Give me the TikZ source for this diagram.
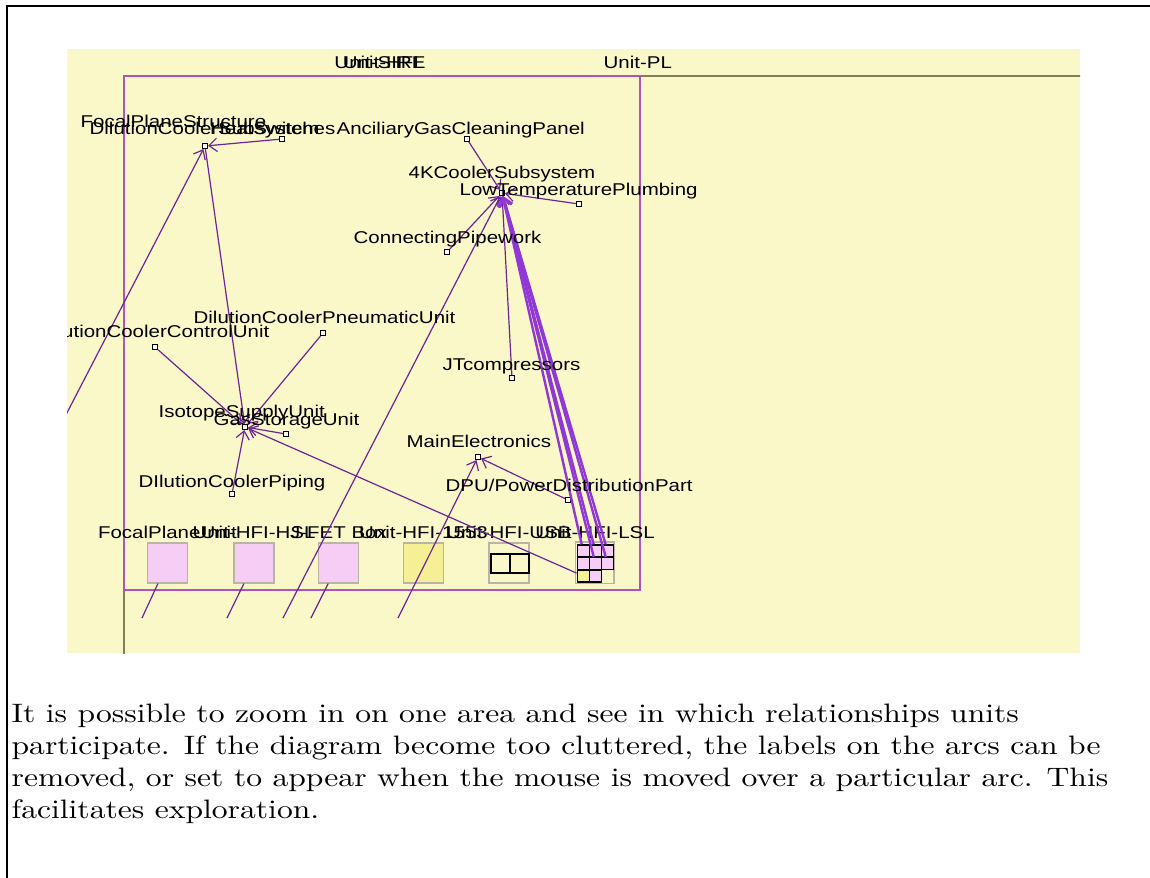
\documentclass[tikz,border=0pt]{standalone}
\usepackage{fontspec}
\setsansfont{Liberation Sans}
\usetikzlibrary{arrows.meta}
\definecolor{shotYellow}{RGB}{250,248,200}
\definecolor{unitPurple}{RGB}{175,85,185}
\definecolor{unitOlive}{RGB}{130,125,90}
\definecolor{arcPurple}{RGB}{110,35,150}
\definecolor{arcViolet}{RGB}{145,55,215}
\definecolor{boxPink}{RGB}{245,205,245}
\definecolor{boxYellow}{RGB}{245,240,150}
\definecolor{boxGray}{RGB}{185,180,165}

\begin{document}
\begin{tikzpicture}[
        x=0.375pt, y=-0.375pt,
        lbl/.style={font=\sffamily\fontsize{6.4}{7}\selectfont, inner sep=0pt, xscale=1.2, anchor=base west},
        obj/.style={draw=black, fill=shotYellow!40!white, minimum size=2pt, inner sep=0pt, line width=0.3pt},
        unitbox/.style={draw=boxGray, minimum width=15pt, minimum height=15pt, inner sep=0pt, line width=0.4pt},
        cell/.style={draw=black, minimum size=4.5pt, inner sep=0pt, line width=0.5pt},
        arc/.style={draw=arcPurple, line width=0.45pt, -{Straight Barb[length=3pt,width=5pt]}},
        bigarc/.style={draw=arcViolet, line width=0.9pt, -{Straight Barb[length=3pt,width=5pt]}},
        stub/.style={draw=arcPurple, line width=0.45pt},
        captext/.style={font=\fontsize{10}{12}\selectfont, inner sep=0pt, xscale=1.185, align=left, anchor=base west}
    ]
        \clip (0,0) rectangle (1150,877);
        \draw[line width=0.9pt] (7,900) -- (7,6) -- (1160,6);
        \fill[shotYellow] (67,49) rectangle (1080,653);

        \begin{scope}
        \clip (67,49) rectangle (1080,653);
        \draw[unitOlive, line width=0.75pt] (124,700) -- (124,76) -- (1100,76);
        \draw[unitPurple, line width=0.75pt] (124,76) rectangle (640,590);
        \node[lbl] (plLbl) at (603,68) {Unit-PL};
        \node[lbl, anchor=base] (sireLbl) at (380,68) {Unit-SIRE};
        \node[lbl, anchor=base] (hfiLbl) at (381,68) {Unit-HFI};

        \node[unitbox, fill=boxPink] (fpu) at (167.5,563) {};
        \node[unitbox, fill=boxPink] (hsl) at (254,563) {};
        \node[unitbox, fill=boxPink] (jfet) at (338.5,563) {};
        \node[unitbox, fill=boxYellow] (b1553) at (423.5,563) {};
        \node[unitbox] (usb) at (509,563) {};
        \node[cell, fill=shotYellow, minimum size=7.1pt] (usbA) at (500.5,563.5) {};
        \node[cell, fill=shotYellow, minimum size=7.1pt] (usbB) at (519.5,563.5) {};
        \node[unitbox, minimum width=14.6pt, minimum height=15.4pt] (lsl) at (594.5,562.5) {};
        \foreach \r/\c/\col in {1/1/boxPink, 1/2/boxPink, 1/3/boxPink, 2/1/boxPink, 2/2/boxPink, 2/3/boxPink, 3/1/boxYellow, 3/2/boxPink}
            \node[cell, fill=\col] (lsl-\r-\c) at ({571+12.2*\c},{538.5+12.5*\r}) {};

        \node[lbl, anchor=base] (fpuLbl) at (167.5,538) {FocalPlaneUnit};
        \node[lbl, anchor=base] (hslLbl) at (254,538) {Unit-HFI-HSL};
        \node[lbl, anchor=base] (jfetLbl) at (338.5,538) {J-FET Box};
        \node[lbl, anchor=base] (b1553Lbl) at (423.5,538) {Unit-HFI-1553};
        \node[lbl, anchor=base] (usbLbl) at (509,538) {Unit-HFI-USB};
        \node[lbl, anchor=base] (lslLbl) at (595,538) {Unit-HFI-LSL};

        \node[obj] (dcs) at (205,146) {};
        \node[obj] (kcs) at (502,193) {};
        \node[obj] (isu) at (245,427) {};
        \node[obj] (hsw) at (282,139) {};
        \node[obj] (agc) at (467,139) {};
        \node[obj] (ltp) at (579,204) {};
        \node[obj] (cpw) at (447,252) {};
        \node[obj] (jtc) at (512,378) {};
        \node[obj] (dcpu) at (323,333) {};
        \node[obj] (dccu) at (155,347) {};
        \node[obj] (gsu) at (286,434) {};
        \node[obj] (dcp) at (232,494) {};
        \node[obj] (mel) at (478,457) {};
        \node[obj] (dpu) at (568,500) {};
        \coordinate (offL) at (40,465);
        \coordinate (offK) at (283,618);
        \coordinate (offM) at (398,618);
        \coordinate (outA) at (142,618);
        \coordinate (outB) at (227,618);
        \coordinate (outC) at (311,618);

        \draw[arc] (hsw) -- (dcs);
        \draw[arc] (offL) -- (dcs);
        \draw[arc, {Straight Barb[length=3pt,width=5pt]}-] (isu) -- (dcs);
        \draw[arc] (agc) -- (kcs);
        \draw[arc] (ltp) -- (kcs);
        \draw[arc] (cpw) -- (kcs);
        \draw[arc] (jtc) -- (kcs);
        \draw[arc] (offK) -- (kcs);
        \draw[arc] (dcpu) -- (isu);
        \draw[arc] (dccu) -- (isu);
        \draw[arc] (gsu) -- (isu);
        \draw[arc] (dcp) -- (isu);
        \draw[arc] (lsl-3-1) -- (isu);
        \draw[arc] (dpu) -- (mel);
        \draw[arc] (offM) -- (mel);
        \draw[stub] (outA) -- (fpu);
        \draw[stub] (outB) -- (hsl);
        \draw[stub] (outC) -- (jfet);
        \foreach \t in {lsl-1-1, lsl-1-2, lsl-1-3, lsl-2-2, lsl-2-3}
            \draw[bigarc] (\t) -- (kcs);

        \node[lbl] (fpsLbl) at (80,127) {FocalPlaneStructure};
        \node[lbl] (dcsLbl) at (89,134) {DilutionCoolerSubsystem};
        \node[lbl, anchor=base east] (hswLbl) at (336,134) {HeatSwitches};
        \node[lbl] (agcLbl) at (336,134) {AnciliaryGasCleaningPanel};
        \node[lbl] (kcsLbl) at (408,178) {4KCoolerSubsystem};
        \node[lbl] (ltpLbl) at (459,195) {LowTemperaturePlumbing};
        \node[lbl] (cpwLbl) at (353,243) {ConnectingPipework};
        \node[lbl] (jtcLbl) at (442,370) {JTcompressors};
        \node[lbl] (dcpuLbl) at (193,323) {DilutionCoolerPneumaticUnit};
        \node[lbl, anchor=base east] (dccuLbl) at (270,337) {DilutionCoolerControlUnit};
        \node[lbl] (isuLbl) at (158,417) {IsotopeSupplyUnit};
        \node[lbl] (gsuLbl) at (213,425) {GasStorageUnit};
        \node[lbl] (dcpLbl) at (138,487) {DIlutionCoolerPiping};
        \node[lbl] (melLbl) at (406,447) {MainElectronics};
        \node[lbl] (dpuLbl) at (445,491) {DPU/PowerDistributionPart};
        \end{scope}

        \node[captext] (caption) at (11,818) {It is possible to zoom in on one area and see in which relationships units\\
            participate. If the diagram become too cluttered, the labels on the arcs can be\\
            removed, or set to appear when the mouse is moved over a particular arc. This\\
            facilitates exploration.};
    \end{tikzpicture}
\end{document}
